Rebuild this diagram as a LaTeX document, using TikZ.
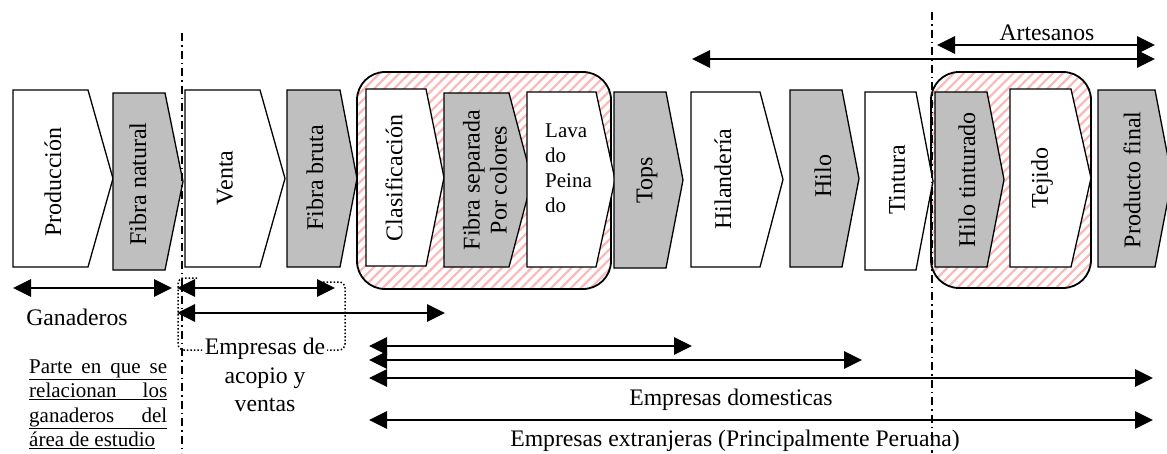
\documentclass[tikz,border=0pt]{standalone}
\usepackage{fontspec}
\setmainfont{Liberation Serif}
\usetikzlibrary{arrows.meta,patterns.meta}
\definecolor{shgray}{RGB}{191,191,191}
\definecolor{hatch}{RGB}{250,185,185}
\tikzset{
 chev/.style={draw=black, line width=1.3pt, line join=miter},
 vlbl/.style={rotate=90, font=\fontsize{24}{27}\selectfont, inner sep=0pt, align=center},
 lbl/.style={font=\fontsize{23.7}{28.5}\selectfont, inner sep=0pt, align=center},
 small/.style={font=\fontsize{21}{25}\selectfont, inner sep=0pt},
 dbl/.style={line width=2.8pt, {Triangle[length=18pt,width=17pt]}-{Triangle[length=18pt,width=17pt]}},
 hbox/.style={draw=black, line width=1.8pt, rounded corners=28pt, pattern={Lines[angle=45,distance=7pt,line width=2.2pt]}, pattern color=hatch},
 divider/.style={line width=1.4pt, dash pattern=on 8pt off 4pt on 1.5pt off 4pt},
 dotbox/.style={line width=1.5pt, dotted, rounded corners=6pt}
}
\newcommand\chevron[6]{\draw[chev, fill=#6] (#1,#2) -- (#3,#2) -- (#4,{(#2+#5)/2}) -- (#3,#5) -- (#1,#5) -- cycle;}
\begin{document}
\begin{tikzpicture}[x=1pt,y=-1pt]
\useasboundingbox (0,0) rectangle (1167,453);
\fill[white] (0,0) rectangle (1167,453);
% hatched groups
\path[hbox] (357,72) rectangle (611,289);
\path[hbox] (931,72) rectangle (1091,288);
% process chevrons
\chevron{13}{90}{88}{113}{267}{white}
\chevron{113}{93}{165}{183}{270}{shgray}
\chevron{185}{90}{260}{285}{267}{white}
\chevron{287}{90}{340}{357}{267}{shgray}
\chevron{366}{89}{426}{444}{266}{white}
\chevron{444}{93}{509}{532}{267}{shgray}
\chevron{527}{92}{596}{615}{267}{white}
\chevron{614}{92}{666}{683}{268}{shgray}
\chevron{691}{92}{760}{783}{267}{white}
\chevron{790}{90}{842}{859}{267}{shgray}
\chevron{865}{92}{916}{933}{270}{white}
\chevron{935}{92}{987}{1004}{267}{shgray}
\chevron{1010}{89}{1071}{1091}{267}{white}
\chevron{1098}{90}{1155}{1172}{267}{shgray}
\node[vlbl] (prod) at (53,182) {Producción};
\node[vlbl] (fnat) at (138,184) {Fibra natural};
\node[vlbl] (venta) at (225,178) {Venta};
\node[vlbl] (fbruta) at (315,178) {Fibra bruta};
\node[vlbl] (clas) at (394,178) {Clasificación};
\node[vlbl] (fsep) at (485,180) {Fibra separada\\Por colores};
\node[small, anchor=north west, align=left] (lav) at (545,124) {Lava\\do\\Peina\\do};
\node[vlbl] (tops) at (647,180) {Tops};
\node[vlbl] (hilan) at (723,179) {Hilandería};
\node[vlbl] (hilo) at (823,176) {Hilo};
\node[vlbl] (tint) at (897,180) {Tintura};
\node[vlbl] (hilot) at (967,180) {Hilo tinturado};
\node[vlbl] (tej) at (1042,178) {Tejido};
\node[vlbl] (pfin) at (1132,180) {Producto final};
% arrow end points
\coordinate (a1) at (937,45);  \coordinate (a2) at (1155,45);
\coordinate (b1) at (692,59);  \coordinate (b2) at (1155,59);
\coordinate (g1) at (13,288);  \coordinate (g2) at (172,288);
\coordinate (c1) at (177,288); \coordinate (c2) at (335,288);
\coordinate (c3) at (177,313); \coordinate (c4) at (445,313);
\coordinate (d1) at (369,346); \coordinate (d2) at (692,346);
\coordinate (d3) at (369,360); \coordinate (d4) at (862,360);
\coordinate (d5) at (369,378); \coordinate (d6) at (1153,378);
\coordinate (e1) at (369,420); \coordinate (e2) at (1153,420);
\draw[dbl] (a1) -- (a2);
\draw[dbl] (b1) -- (b2);
\draw[dbl] (g1) -- (g2);
\draw[dbl] (c1) -- (c2);
\draw[dbl] (c3) -- (c4);
\draw[dbl] (d1) -- (d2);
\draw[dbl] (d3) -- (d4);
\draw[dbl] (d5) -- (d6);
\draw[dbl] (e1) -- (e2);
% labels
\node[lbl] (art) at (1047,33) {Artesanos};
\node[lbl] (gan) at (77,317) {Ganaderos};
\node[lbl] (acop) at (265,375) {Empresas de\\acopio y\\ventas};
\node[lbl] (dom) at (731,400) {Empresas domesticas};
\node[lbl] (ext) at (735,441) {Empresas extranjeras (Principalmente Peruana)};
\node[small, anchor=base west] (p1) at (29,373) {\underline{\makebox[138pt][s]{Parte en que se}}};
\node[small, anchor=base west] (p2) at (29,397.5) {\underline{\makebox[138pt][s]{relacionan los}}};
\node[small, anchor=base west] (p3) at (29,422) {\underline{\makebox[138pt][s]{ganaderos del}}};
\node[small, anchor=base west] (p4) at (29,446.5) {\underline{área de estudio}};
% dotted bracket around acopio
\draw[dotbox] (197,278) -- (178,278) -- (178,350) -- (202,350);
\draw[dotbox] (323,282) -- (345,282) -- (345,350) -- (327,350);
% dividers
\coordinate (v1t) at (182,33);  \coordinate (v1b) at (182,453);
\coordinate (v2t) at (932,12);  \coordinate (v2b) at (932,453);
\draw[divider] (v1t) -- (v1b);
\draw[divider] (v2t) -- (v2b);
\end{tikzpicture}
\end{document}
